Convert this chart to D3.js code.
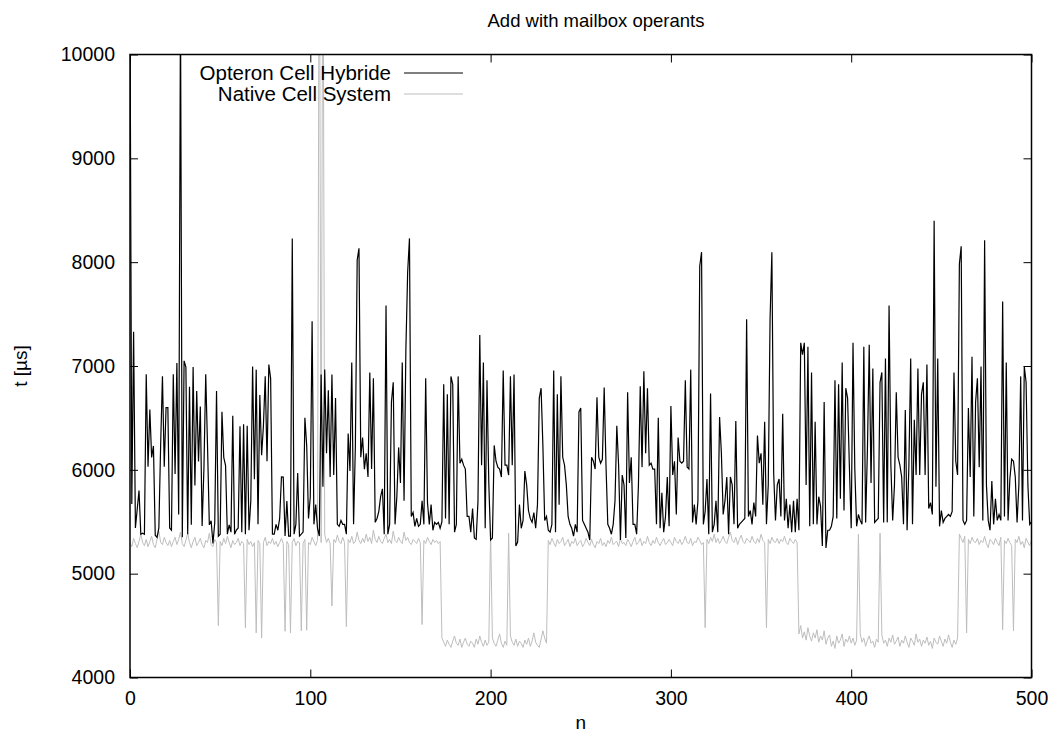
<!DOCTYPE html>
<html>
<head>
<meta charset="utf-8">
<script src="https://cdn.jsdelivr.net/npm/d3@7"></script>
<style>
  body { margin: 0; background: #fff; }
  svg { display: block; }
  text { font-family: "Liberation Sans", Arial, Helvetica, sans-serif; fill: #000; }
</style>
</head>
<body>
<div id="chart"></div>
<script>
// values, one per n (0..500)
const hybrid = [
  10500, 5670, 7330, 5440, 5620, 5800, 5380, 5390, 5380, 6920,
  6030, 6580, 6120, 6230, 5370, 5350, 5440, 6240, 6900, 6030,
  6600, 6600, 5440, 5420, 6920, 5960, 7030, 5570, 10500, 5350,
  7050, 6990, 5380, 6800, 5470, 6990, 5850, 6760, 6080, 6610,
  5460, 6010, 6920, 6230, 5470, 5510, 5290, 5490, 6760, 5360,
  5380, 6560, 6120, 6040, 5380, 5470, 5400, 6520, 5380, 5420,
  5440, 6420, 5400, 6440, 5380, 6425, 5418, 5700, 6995, 5910,
  6965, 5475, 6721, 6140, 6425, 6900, 6083, 7014, 6881, 5380,
  5380, 5475, 5418, 5532, 5931, 5930, 5362, 5700, 5362, 5362,
  8229, 5380, 5475, 5969, 5362, 5380, 5400, 6501, 6235, 5532,
  5741, 7431, 5475, 5665, 5437, 5362, 6919, 5836, 6965, 6159,
  6767, 5931, 6919, 5950, 6691, 5475, 5456, 5513, 5475, 5475,
  5380, 6349, 5988, 7033, 5475, 6235, 8020, 8134, 6121, 6311,
  6007, 6159, 5931, 6938, 6007, 6881, 5494, 5532, 5600, 5741,
  5817, 5380, 7583, 5380, 5475, 6653, 6843, 5475, 5741, 6216,
  5874, 7033, 5703, 7147, 7906, 8229, 5551, 5589, 5456, 5532,
  5456, 5475, 5703, 5475, 6881, 5684, 5475, 5665, 5418, 5494,
  5475, 5494, 5437, 5500, 6824, 5532, 6729, 5475, 6900, 6824,
  5400, 5475, 6900, 6064, 6102, 6045, 6007, 5551, 5551, 5400,
  5627, 5343, 5330, 5700, 7299, 6045, 7033, 5437, 6862, 5874,
  5324, 5343, 6235, 6083, 6026, 6007, 5931, 6957, 6045, 6045,
  5950, 6900, 6045, 6919, 5267, 5305, 5665, 5437, 5513, 5988,
  5855, 5608, 5532, 5494, 5589, 5437, 5665, 6691, 6786, 6235,
  5513, 5551, 5418, 5400, 5475, 6957, 5400, 6729, 5665, 6900,
  6121, 6045, 5855, 5551, 5475, 5437, 5362, 5475, 5400, 6558,
  6596, 5513, 5475, 5437, 5400, 5324, 6121, 6083, 6007, 6699,
  6121, 6064, 6102, 6793, 6045, 5475, 5437, 5380, 5475, 5703,
  6425, 6045, 5324, 5950, 5855, 5343, 6748, 5874, 6121, 5475,
  5475, 5380, 5855, 6805, 6026, 6950, 6159, 6786, 6045, 6064,
  6007, 6007, 5475, 6501, 5437, 5779, 5400, 5551, 5931, 5456,
  6615, 5950, 6083, 5570, 6311, 6083, 6064, 6083, 6862, 6026,
  6007, 6965, 5494, 5665, 5475, 5703, 7963, 8096, 5475, 5600,
  5912, 5380, 6736, 5400, 5475, 5703, 5400, 6509, 6159, 5570,
  5703, 5931, 5380, 5931, 5855, 5475, 6470, 5437, 5475, 5494,
  5513, 5532, 7450, 5551, 5608, 5475, 5684, 5551, 6330, 6064,
  6159, 5665, 6463, 5475, 5855, 7450, 8096, 5969, 5513, 5855,
  5912, 5551, 6539, 5513, 5722, 5437, 5665, 5400, 5703, 5400,
  5722, 5418, 7223, 7109, 7223, 5855, 7185, 5456, 6938, 5475,
  6463, 5475, 5741, 5650, 5267, 6653, 5248, 5418, 5418, 5456,
  5551, 6862, 5532, 6824, 5722, 7033, 5608, 6786, 6691, 6026,
  5437, 7223, 6007, 5456, 5570, 5513, 5475, 7185, 5494, 6197,
  7204, 5874, 6976, 5494, 5513, 5532, 6843, 6938, 5494, 7071,
  5494, 7583, 6045, 5513, 5855, 6748, 6121, 6045, 5931, 5475,
  6577, 5418, 6045, 7071, 5475, 6482, 5950, 6976, 5950, 6729,
  6843, 5950, 7014, 5627, 5684, 5570, 8400, 5836, 7071, 5456,
  5608, 5494, 5532, 5551, 5570, 5551, 5600, 6938, 6083, 5950,
  7982, 8153, 5513, 5475, 5513, 6596, 5931, 7090, 5551, 6653,
  6881, 6026, 6995, 5513, 8210, 5855, 5513, 5418, 5893, 5475,
  5722, 5513, 5570, 5513, 7621, 5551, 7033, 5513, 5912, 6102,
  6083, 5931, 5494, 5855, 6900, 5513, 6995, 6843, 5855, 5475,
  5500
];

const native = [
  5300, 5260, 5340, 5290, 5250, 5310, 5380, 5300, 5270, 5330,
  5260, 5310, 5360, 5280, 5250, 5330, 5410, 5300, 5280, 5350,
  5300, 5270, 5320, 5260, 5310, 5350, 5280, 5330, 5400, 5290,
  5260, 5320, 5390, 5300, 5250, 5310, 5350, 5270, 5300, 5340,
  5280, 5250, 5320, 5300, 5390, 5280, 5260, 5330, 5300, 4500,
  5310, 5270, 5340, 5290, 5360, 5300, 5250, 5320, 5280, 5300,
  5340, 5270, 5310, 5290, 4480, 5330, 5280, 5310, 5260, 5300,
  4430, 5320, 5290, 4380, 5300, 5350, 5270, 5310, 5290, 5340,
  5280, 5310, 5260, 5300, 5340, 5290, 4445, 5310, 5280, 4430,
  5300, 5340, 5270, 5310, 5300, 4450, 5290, 5330, 4455, 5300,
  5280, 5350, 5310, 5270, 5320, 12000, 5300, 12000, 5380, 5300,
  5340, 5290, 4690, 5330, 5300, 5370, 5310, 5290, 5350, 5300,
  4490, 5330, 5300, 5360, 5290, 5310, 5400, 5320, 5290, 5340,
  5300, 5380, 5310, 5350, 5290, 5420, 5330, 5300, 5360, 5310,
  5290, 5340, 5380, 5300, 5330, 5290, 5410, 5320, 5300, 5350,
  5310, 5290, 5400, 5320, 5350, 5300, 5280, 5330, 5310, 5290,
  5340, 5300, 4510, 5320, 5290, 5350, 5310, 5280, 5330, 5300,
  5320, 5290, 5310, 4380, 4340, 4300, 4360, 4320, 4290, 4350,
  4400, 4330, 4310, 4370, 4290, 4340, 4380, 4320, 4300, 4350,
  4330, 4290, 4370, 4320, 4400, 4340, 4300, 4360, 4310, 4340,
  5400, 4380, 4330, 4300, 4360, 4420, 4330, 4290, 4350, 4310,
  5390, 4400, 4340, 4310, 4370, 4300, 4350, 4330, 4290, 4360,
  4320, 4380, 4300, 4350, 4430, 4340, 4310, 4290, 4370, 4450,
  4380, 4330, 5320, 5280, 5340, 5300, 5260, 5330, 5290, 5310,
  5350, 5270, 5300, 5330, 5260, 5310, 5290, 5340, 5270, 5300,
  5320, 5260, 5290, 5340, 5300, 5270, 5330, 5280, 5250, 5310,
  5290, 5340, 5270, 5300, 5260, 5320, 5290, 5350, 5280, 5300,
  5310, 5260, 5340, 5290, 5300, 5270, 5330, 5300, 5260, 5310,
  5350, 5280, 5300, 5340, 5270, 5310, 5290, 5360, 5300, 5270,
  5320, 5290, 5350, 5300, 5270, 5310, 5340, 5280, 5300, 5330,
  5300, 5270, 5350, 5310, 5290, 5330, 5280, 5310, 5360, 5300,
  5290, 5340, 5270, 5310, 5300, 5350, 5320, 5280, 5300, 4480,
  5330, 5290, 5350, 5310, 5380, 5300, 5340, 5290, 5320, 5360,
  5310, 5290, 5350, 5400, 5320, 5300, 5350, 5280, 5330, 5370,
  5310, 5290, 5340, 5320, 5300, 5360, 5310, 5290, 5340, 5300,
  5380, 5320, 5300, 4480, 5330, 5290, 5350, 5310, 5300, 5340,
  5290, 5330, 5310, 5360, 5300, 5280, 5340, 5310, 5290, 5330,
  5300, 4420, 4500, 4380, 4440, 4360, 4480, 4400, 4350, 4430,
  4380, 4460, 4340, 4400, 4360, 4450, 4320, 4380, 4410, 4300,
  4350, 4280, 4400, 4330, 4360, 4420, 4300, 4370, 4340, 4400,
  4330, 4380, 4310, 4360, 5380, 4420, 4340, 4380, 4300, 4360,
  4400, 4330, 4350, 4290, 4370, 4340, 5390, 4410, 4330, 4360,
  4300, 4380, 4340, 4410, 4320, 4350, 4390, 4300, 4360, 4330,
  4400, 4340, 4290, 4380, 4350, 4310, 4420, 4340, 4370, 4300,
  4360, 4330, 4390, 4310, 4350, 4280, 4380, 4340, 4320, 4400,
  4350, 4300, 4370, 4330, 4410, 4340, 4290, 4360, 4320, 4380,
  5380, 5340, 5300, 5360, 4430, 5330, 5290, 5350, 5310, 5300,
  5340, 5280, 5320, 5300, 5360, 5290, 5250, 5330, 5310, 5280,
  5340, 5300, 5270, 5350, 4460, 5320, 5290, 5340, 5300, 5270,
  4450, 5330, 5300, 5360, 5280, 5310, 5250, 5340, 5300, 5270,
  5320
];

const seriesNames = ["Opteron Cell Hybride", "Native Cell System"];
const seriesColors = ["#000000", "#bdbdbd"];
const xTicks = [0, 100, 200, 300, 400, 500];
const yTicks = [4000, 5000, 6000, 7000, 8000, 9000, 10000];

const width = 1054, height = 737;
const plotLeft = 130, plotRight = 1031.5, plotTop = 54.5, plotBottom = 677.5;

const svg = d3.select("#chart").append("svg")
  .attr("width", width)
  .attr("height", height);

const x = d3.scaleLinear().domain([0, 500]).range([plotLeft, plotRight]);
const y = d3.scaleLinear().domain([4000, 10000]).range([plotBottom, plotTop]);

svg.append("defs").append("clipPath").attr("id", "plot-clip")
  .append("rect")
  .attr("x", plotLeft).attr("y", plotTop)
  .attr("width", plotRight - plotLeft).attr("height", plotBottom - plotTop);

const tickFont = 19.5;
const labelFont = 19;

// axes, gnuplot style: ticks point inwards on all four sides
const axisBottom = d3.axisBottom(x).tickValues(xTicks).tickFormat(d3.format("d"))
  .tickSizeInner(-8).tickSizeOuter(0).tickPadding(14);
const axisTop = d3.axisTop(x).tickValues(xTicks).tickSizeInner(-8).tickSizeOuter(0).tickFormat("");
const axisLeft = d3.axisLeft(y).tickValues(yTicks).tickFormat(d3.format("d"))
  .tickSizeInner(-8).tickSizeOuter(0).tickPadding(15);
const axisRight = d3.axisRight(y).tickValues(yTicks).tickSizeInner(-8).tickSizeOuter(0).tickFormat("");

const styleAxis = g => {
  g.select(".domain").remove();
  g.selectAll(".tick line").attr("stroke", "#000").attr("stroke-width", 1);
  g.selectAll(".tick text")
    .attr("font-size", tickFont)
    .attr("font-family", "Liberation Sans, Arial, sans-serif")
    .attr("fill", "#000");
};

svg.append("g").attr("transform", `translate(0,${plotBottom})`).call(axisBottom).call(styleAxis);
svg.append("g").attr("transform", `translate(0,${plotTop})`).call(axisTop).call(styleAxis);
svg.append("g").attr("transform", `translate(${plotLeft},0)`).call(axisLeft).call(styleAxis);
svg.append("g").attr("transform", `translate(${plotRight},0)`).call(axisRight).call(styleAxis);

// series lines
const line = d3.line()
  .x((d, i) => x(i))
  .y(d => y(d));

const plot = svg.append("g").attr("clip-path", "url(#plot-clip)");

plot.append("path")
  .datum(native)
  .attr("fill", "none")
  .attr("stroke", seriesColors[1])
  .attr("stroke-width", 1)
  .attr("d", line);

plot.append("path")
  .datum(hybrid)
  .attr("fill", "none")
  .attr("stroke", seriesColors[0])
  .attr("stroke-width", 1.2)
  .attr("d", line);

// border
svg.append("rect")
  .attr("x", plotLeft).attr("y", plotTop)
  .attr("width", plotRight - plotLeft).attr("height", plotBottom - plotTop)
  .attr("fill", "none")
  .attr("stroke", "#000")
  .attr("stroke-width", 1.5);

// legend
const legend = svg.append("g");
seriesNames.forEach((name, i) => {
  const ly = 73 + i * 21;
  legend.append("text")
    .attr("x", 391).attr("y", ly)
    .attr("dy", "0.35em")
    .attr("text-anchor", "end")
    .attr("font-size", 20.5)
    .text(name);
  legend.append("line")
    .attr("x1", 404).attr("x2", 463)
    .attr("y1", ly).attr("y2", ly)
    .attr("stroke", seriesColors[i])
    .attr("stroke-width", 1);
});

// titles
svg.append("text")
  .attr("x", 596).attr("y", 21)
  .attr("dy", "0.35em")
  .attr("text-anchor", "middle")
  .attr("font-size", 18.5)
  .text("Add with mailbox operants");

svg.append("text")
  .attr("x", (plotLeft + plotRight) / 2).attr("y", 722)
  .attr("dy", "0.35em")
  .attr("text-anchor", "middle")
  .attr("font-size", labelFont)
  .text("n");

svg.append("text")
  .attr("transform", `translate(20,${(plotTop + plotBottom) / 2}) rotate(-90)`)
  .attr("dy", "0.35em")
  .attr("text-anchor", "middle")
  .attr("font-size", labelFont)
  .text("t [µs]");
</script>
</body>
</html>
